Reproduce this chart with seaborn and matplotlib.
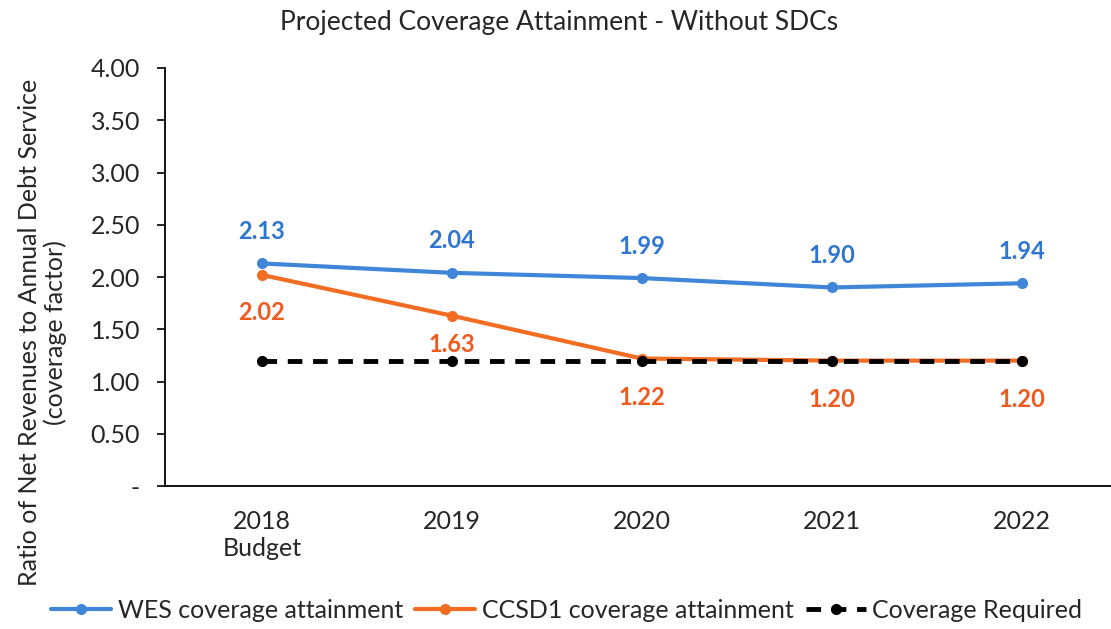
import pandas as pd
import seaborn as sns
import matplotlib.pyplot as plt

# Chart data
years = ["2018\nBudget", "2019", "2020", "2021", "2022"]
wes = [2.13, 2.04, 1.99, 1.90, 1.94]
ccsd1 = [2.02, 1.63, 1.22, 1.20, 1.20]
required = [1.20, 1.20, 1.20, 1.20, 1.20]

blue = "#3F86D8"
orange = "#F26C22"

sns.set_style("white")
plt.rcParams['font.family'] = ['Lato', 'DejaVu Sans']

fig = plt.figure(figsize=(11.11, 6.29), dpi=100)
ax = fig.add_axes([0.1485, 0.2273, 0.8515, 0.6646])

df = pd.DataFrame({"year": years, "wes": wes, "ccsd1": ccsd1, "req": required})

sns.lineplot(data=df, x="year", y="wes", ax=ax, color=blue, lw=3,
             marker="o", markersize=8, markeredgewidth=0, sort=False,
             label="WES coverage attainment")
sns.lineplot(data=df, x="year", y="ccsd1", ax=ax, color=orange, lw=3,
             marker="o", markersize=8, markeredgewidth=0, sort=False,
             label="CCSD1 coverage attainment")
sns.lineplot(data=df, x="year", y="req", ax=ax, color="black", lw=3.5,
             linestyle=(0, (3, 2.2)), marker="o", markersize=8,
             markeredgewidth=0, sort=False, label="Coverage Required")

# data labels
for i, v in enumerate(wes):
    ax.annotate(f"{v:.2f}", (i, v), xytext=(0, 23), textcoords="offset points",
                ha="center", va="center", color="#2F76D2", fontsize=17,
                fontweight="bold")
ccsd_off = [-27, -21, -28, -28, -28]
for i, v in enumerate(ccsd1):
    ax.annotate(f"{v:.2f}", (i, v), xytext=(0, ccsd_off[i]), textcoords="offset points",
                ha="center", va="center", color="#F05A1E", fontsize=17,
                fontweight="bold")

ax.set_xlim(-0.51, 4.47)
ax.set_ylim(0, 4.0)
ax.set_yticks([0, 0.5, 1, 1.5, 2, 2.5, 3, 3.5, 4])
ax.set_yticklabels(["-", "0.50", "1.00", "1.50", "2.00", "2.50", "3.00", "3.50", "4.00"])
ax.tick_params(axis="y", left=True, length=6, width=1.2, color="black",
               labelsize=18, pad=12)
ax.tick_params(axis="x", bottom=False, labelsize=18, pad=14)

for s in ["top", "right"]:
    ax.spines[s].set_visible(False)
for s in ["left", "bottom"]:
    ax.spines[s].set_color("black")
    ax.spines[s].set_linewidth(1.3)

ax.set_xlabel("")
ax.set_ylabel("Ratio of Net Revenues to Annual Debt Service\n(coverage factor)",
              fontsize=18, linespacing=1.1)
ax.yaxis.set_label_coords(-0.104, 0.368)

fig.text(0.503, 0.965, "Projected Coverage Attainment - Without SDCs",
         ha="center", va="center", fontsize=19)

ax.legend(loc="center", bbox_to_anchor=(0.5 - 0.1485 / 2 / 0.8515 + 0.012, -0.297),
          ncol=3, frameon=False, fontsize=18, handlelength=2.4,
          columnspacing=0.5, handletextpad=0.25)

fig.savefig("out.png", dpi=100)
